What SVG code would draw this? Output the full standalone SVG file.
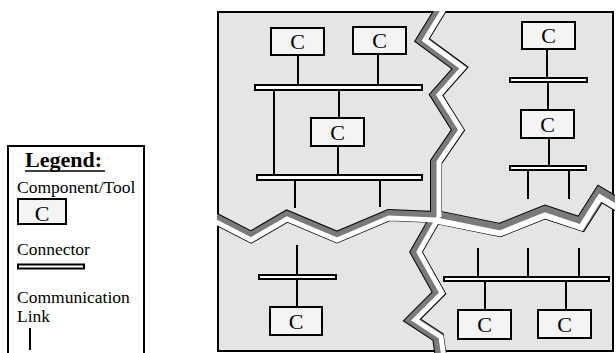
<svg xmlns="http://www.w3.org/2000/svg" width="616" height="353" viewBox="0 0 616 353">
<style>
.comp{fill:#f4f4f4;stroke:#000;stroke-width:2}
.bar{fill:#fff;stroke:#000;stroke-width:2}
.lbl{font-family:"Liberation Serif","Times New Roman",serif;font-size:22px;text-anchor:middle;fill:#000}
.lg{font-family:"Liberation Serif","Times New Roman",serif;font-size:17.5px;fill:#000}
.link{stroke:#000;stroke-width:2;fill:none}
.ck{fill:none;stroke-linejoin:miter;stroke-miterlimit:10;stroke-linecap:butt}
</style>
<defs>
<clipPath id="boxclip"><rect x="217" y="11" width="398" height="343"/></clipPath>
</defs>
<rect width="616" height="353" fill="#fff"/>

<!-- Legend -->
<g id="legend">
<rect x="8" y="146" width="136" height="230" fill="#fff" stroke="#000" stroke-width="2"/>
<text x="25" y="167" font-family="Liberation Serif,'Times New Roman',serif" font-size="22" font-weight="bold">Legend:</text>
<line x1="25" y1="171" x2="105" y2="171" stroke="#000" stroke-width="1.6"/>
<text class="lg" x="17" y="193">Component/Tool</text>
<rect class="comp" x="18" y="199" width="48" height="25"/>
<text class="lbl" x="42" y="221" font-size="20">C</text>
<text class="lg" x="17" y="255">Connector</text>
<rect class="bar" x="18" y="264.5" width="66" height="4"/>
<text class="lg" x="17" y="303">Communication</text>
<text class="lg" x="17" y="322">Link</text>
<line class="link" x1="30" y1="328" x2="30" y2="350"/>
</g>

<!-- Broken system plate -->
<g id="plate">
<rect x="218" y="12" width="395" height="339" fill="#e5e5e5" stroke="#000" stroke-width="2"/>
<g clip-path="url(#boxclip)" class="ck">
<g stroke="#000">
<polyline stroke-width="12" points="444,4 422,40 460,68 436,95 458,130 436,162 436,217"/>
<polyline stroke-width="12" points="214,218 251,237 287,216 337,237 389,215 436,217"/>
<polyline stroke-width="14" points="436,217 500,230 545,212 581,224 600,194 620,206"/>
<polyline stroke-width="12" points="436,217 416,252 439,293 412,320 438,337 441,358"/>
</g>
<g stroke="#7a7a7a">
<polyline stroke-width="10" points="444,4 422,40 460,68 436,95 458,130 436,162 436,217"/>
<polyline stroke-width="10" points="214,218 251,237 287,216 337,237 389,215 436,217"/>
<polyline stroke-width="12" points="436,217 500,230 545,212 581,224 600,194 620,206"/>
<polyline stroke-width="10" points="436,217 416,252 439,293 412,320 438,337 441,358"/>
</g>
<g stroke="#fff">
<polyline stroke-width="5" points="447,4 425,40 463,68 439,95 461,130 439,162 439,217"/>
<polyline stroke-width="5" points="214,221 251,240 287,219 337,240 389,218 436,220"/>
<polyline stroke-width="6" points="436,220.5 500,233.5 545,215.5 581,227.5 600,197.5 620,209.5"/>
<polyline stroke-width="5" points="439,217 419,252 442,293 415,320 441,337 444,358"/>
</g>
</g>
</g>

<!-- Communication links -->
<g id="links" class="link">
<line x1="298" y1="56" x2="298" y2="85"/>
<line x1="378" y1="55" x2="378" y2="85"/>
<line x1="339" y1="90" x2="339" y2="118"/>
<line x1="338" y1="146" x2="338" y2="175"/>
<line x1="274" y1="90" x2="274" y2="175"/>
<line x1="295" y1="180" x2="295" y2="208"/>
<line x1="380" y1="180" x2="380" y2="207"/>
<line x1="547" y1="50" x2="547" y2="78"/>
<line x1="548" y1="82" x2="548" y2="110"/>
<line x1="549" y1="138" x2="549" y2="166"/>
<line x1="528" y1="170" x2="528" y2="199"/>
<line x1="569" y1="170" x2="569" y2="199"/>
<line x1="297" y1="245" x2="297" y2="275"/>
<line x1="297" y1="279" x2="297" y2="307"/>
<line x1="478" y1="248" x2="478" y2="277"/>
<line x1="528" y1="248" x2="528" y2="277"/>
<line x1="579" y1="248" x2="579" y2="277"/>
<line x1="485" y1="281" x2="485" y2="310"/>
<line x1="566" y1="281" x2="566" y2="310"/>
</g>

<!-- Connectors (bars) -->
<g id="conn-tl1"><rect class="bar" x="255" y="85" width="167" height="5"/></g>
<g id="conn-tl2"><rect class="bar" x="257" y="175" width="165" height="5"/></g>
<g id="conn-tr1"><rect class="bar" x="510" y="78" width="77" height="4"/></g>
<g id="conn-tr2"><rect class="bar" x="510" y="166" width="76" height="4"/></g>
<g id="conn-bl1"><rect class="bar" x="259" y="275" width="77" height="4"/></g>
<g id="conn-br1"><rect class="bar" x="444" y="277" width="165" height="4"/></g>

<!-- Components -->
<g id="comp-tl1"><rect class="comp" x="271" y="28" width="53" height="27"/><text class="lbl" x="297.5" y="49">C</text></g>
<g id="comp-tl2"><rect class="comp" x="353" y="27" width="53" height="27"/><text class="lbl" x="379.5" y="48">C</text></g>
<g id="comp-tl3"><rect class="comp" x="311" y="118" width="53" height="28"/><text class="lbl" x="337.5" y="139.5">C</text></g>
<g id="comp-tr1"><rect class="comp" x="522" y="22" width="53" height="27"/><text class="lbl" x="548.5" y="43">C</text></g>
<g id="comp-tr2"><rect class="comp" x="521" y="110" width="53" height="28"/><text class="lbl" x="547.5" y="131.5">C</text></g>
<g id="comp-bl1"><rect class="comp" x="270" y="307" width="52" height="28"/><text class="lbl" x="296" y="328.5">C</text></g>
<g id="comp-br1"><rect class="comp" x="458" y="310" width="53" height="29"/><text class="lbl" x="484.5" y="332">C</text></g>
<g id="comp-br2"><rect class="comp" x="538" y="310" width="53" height="28"/><text class="lbl" x="564.5" y="331.5">C</text></g>
</svg>
